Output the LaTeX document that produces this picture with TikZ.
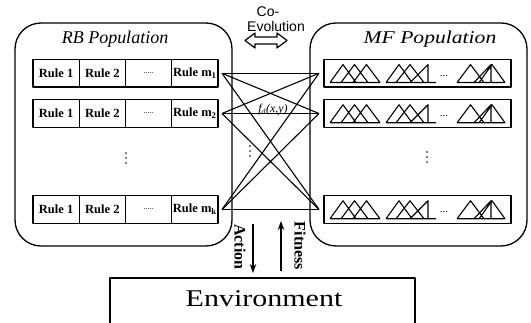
\documentclass[tikz,border=0pt]{standalone}
\usepackage{fontspec}
\setmainfont{Liberation Serif}
\newfontfamily\sansf{Liberation Sans}
\usetikzlibrary{arrows.meta}
\tikzset{
  popbox/.style={draw, line width=1.3pt, rounded corners=26pt},
  cell/.style={draw, line width=1.3pt, outer sep=0pt, minimum width=46.25pt, minimum height=27.5pt,
    inner sep=0pt, anchor=west, font=\fontsize{12.5}{12.5}\selectfont\bfseries},
  mfrowbox/.style={draw, line width=1.3pt, outer sep=0pt, minimum width=187pt, minimum height=27.5pt,
    inner sep=0pt, anchor=west},
  link/.style={line width=1.1pt},
  tri/.style={line width=1.1pt},
  flow/.style={line width=1.2pt, -{Stealth[length=9pt,width=6.5pt]}},
  dotmark/.style={radius=0.9pt},
  mfs/.pic={
    \draw[tri] (6,23) -- (19,5) -- (32,23) (17,23) -- (30.5,5) -- (44,23) (29,23) -- (42.5,5) -- (56,23) (6,23) -- (56,23);
    \draw[tri] (62,23) -- (75,5) -- (88,23) (72,23) -- (86,5) -- (100,23) (86,23) -- (104,5) -- (104,23) (62,23) -- (112,23);
    \node[font=\fontsize{11}{11}\selectfont, inner sep=0pt] at (120,16) {...};
    \draw[tri] (133,23) -- (146.5,5) -- (160,23) (150,23) -- (167,5) -- (167,23) (155,23) -- (168,5) -- (181,23) (133,23) -- (181,23);
  }
}
\begin{document}
\begin{tikzpicture}[x=1pt, y=-1pt, line join=round]
\useasboundingbox (0,0) rectangle (531,323);

% population boxes
\draw[popbox] (15,23) rectangle (232,246);
\draw[popbox] (310,23) rectangle (527,246);

\node[font=\fontsize{18}{18}\selectfont\itshape] (rbt) at (115,39) {RB Population};
\node[font=\fontsize{18}{18}\selectfont\itshape] (mft) at (430,39) {\scalebox{1.2}[1]{MF Population}};

% rows
\foreach \i/\yc/\s in {1/73.3/1, 2/113.5/2, 3/209.5/k} {
  \node[cell] (a\i) at (33,\yc) {Rule 1};
  \node[cell] (b\i) at (a\i.east) {Rule 2};
  \node[cell, font=\fontsize{8}{8}\selectfont] (c\i) at (b\i.east) {.....};
  \node[cell] (d\i) at (c\i.east) {Rule m\textsubscript{\s}};
  \coordinate (L\i) at ([xshift=4pt]d\i.east);
  \node[mfrowbox] (m\i) at (324,\yc) {};
  \coordinate (R\i) at ([xshift=-5pt]m\i.west);
  \pic at (m\i.north west) {mfs};
}

% links
\foreach \i in {1,2,3} {
  \foreach \j in {1,2,3} {
    \draw[link] (L\i) -- (R\j);
  }
}

\node[font=\fontsize{12}{12}\selectfont\itshape] (fd) at (273,110) {f\textsubscript{d}(x,y)};

% vertical dots
\foreach \x/\y in {126/158, 250/151, 427/157} {
  \fill[dotmark] (\x,\y-5) circle;
  \fill[dotmark] (\x,\y) circle;
  \fill[dotmark] (\x,\y+5) circle;
}

% co-evolution
\node[font=\sansf\fontsize{14}{14}\selectfont, inner sep=0pt] (co) at (268,12) {Co-};
\node[font=\sansf\fontsize{14}{14}\selectfont, inner sep=0pt] (evo) at (276,26) {Evolution};
\draw[line width=1.2pt] (245,40.5) -- (255,33) -- (255,37) -- (277,37) -- (277,33) -- (287,40.5)
  -- (277,48) -- (277,44) -- (255,44) -- (255,48) -- cycle;

% environment
\draw[line width=1.3pt] (110,324) -- (110,278) -- (415,278) -- (415,324);
\node[font=\fontsize{24}{24}\selectfont, inner sep=0pt] (env) at (264,299) {\scalebox{1.25}[1]{Environment}};

% action / fitness
\coordinate (actS) at (253,224);
\coordinate (actE) at (253,273);
\coordinate (fitS) at (281,271);
\coordinate (fitE) at (281,221);
\draw[flow] (actS) -- (actE);
\draw[flow] (fitS) -- (fitE);
\node[font=\fontsize{16}{16}\selectfont\bfseries, rotate=-90, inner sep=0pt] (act) at (240,247) {Action};
\node[font=\fontsize{16}{16}\selectfont\bfseries, rotate=-90, inner sep=0pt] (fit) at (300,246) {Fitness};
\end{tikzpicture}
\end{document}
